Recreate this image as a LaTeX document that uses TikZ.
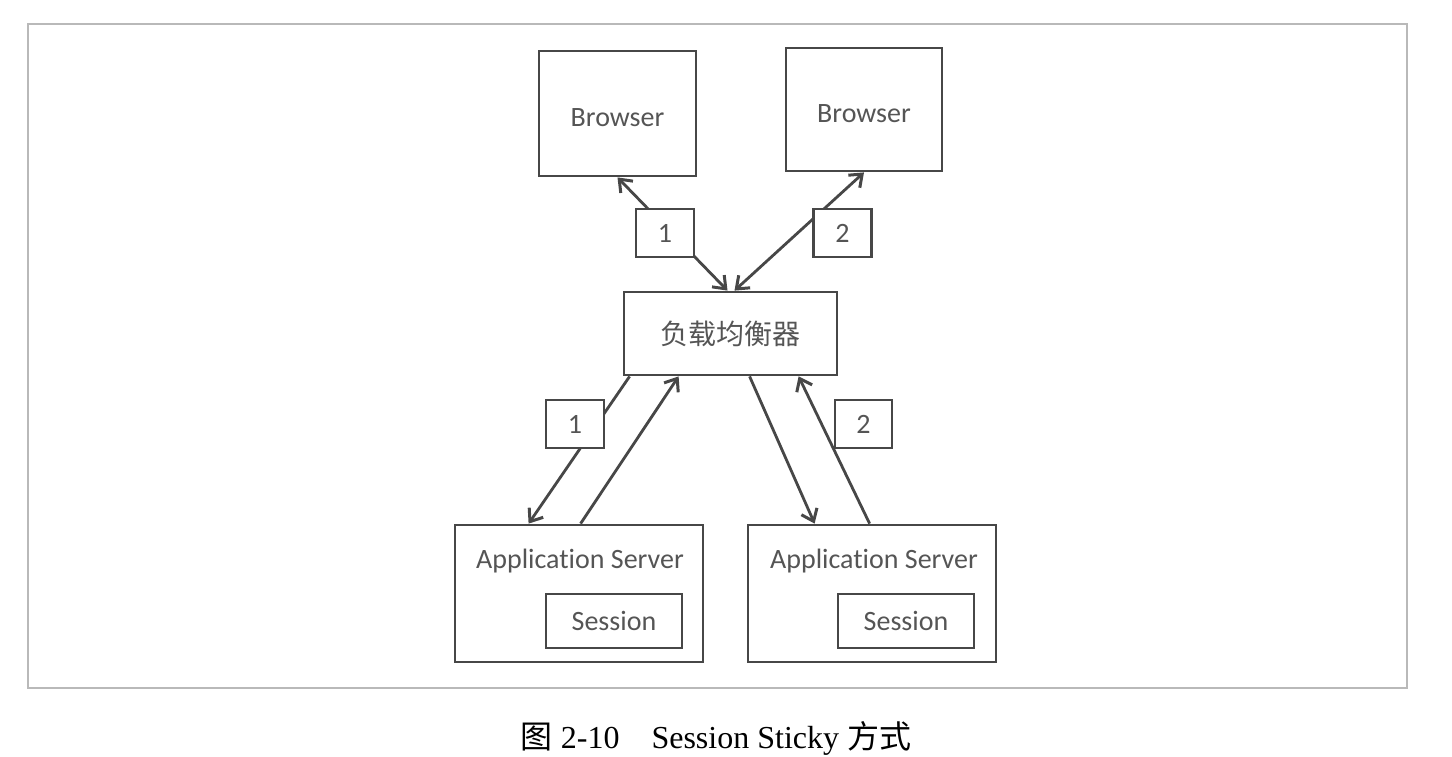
\documentclass[tikz,border=0pt]{standalone}
\usepackage{fontspec}
\setmainfont{Carlito}[RawFeature={-liga;-clig;-calt;-dlig}]
\newfontfamily\cjk{Noto Sans CJK SC}
\newfontfamily\capfont{Liberation Serif}
\usepackage{tikz}
\usetikzlibrary{arrows.meta,calc}
\definecolor{linegray}{HTML}{474747}
\definecolor{textgray}{HTML}{555555}
\newcommand{\appname}{Applicat\kern0pt ion Server}
\tikzset{
  box/.style={draw=linegray,line width=1.4pt,inner sep=0pt,text=textgray,font=\fontsize{14}{16}\selectfont},
  numbox/.style={box,fill=white,minimum width=29pt,minimum height=24pt},
  link/.style={draw=linegray,line width=1.4pt,-{Straight Barb[length=5.5pt,width=8.5pt,line width=1.5pt]}},
  twolink/.style={link,{Straight Barb[length=5.5pt,width=8.5pt,line width=1.5pt]}-{Straight Barb[length=5.5pt,width=8.5pt,line width=1.5pt]}}
}

\begin{document}
\begin{tikzpicture}[x=0.5pt,y=-0.5pt]
                \useasboundingbox (0,0) rectangle (1452,756);
                \draw[gray!55,line width=0.6pt] (28,24) rectangle (1407,688);
                \node[box,minimum width=78.5pt,minimum height=62.5pt] (brwa) at (617.5,113.5) {\raisebox{-2pt}[\height][\depth]{Browser}};
                \node[box,minimum width=78pt,minimum height=61.5pt] (brwb) at (864,109.5) {\raisebox{-2pt}[\height][\depth]{Browser}};
                \node[box,minimum width=106.5pt,minimum height=41.5pt] (lb) at (730.5,333.5) {\cjk 负载均衡器};
                \node[box,minimum width=124pt,minimum height=68.5pt] (appa) at (579,593.5) {};
                \node[box,minimum width=124pt,minimum height=68.5pt] (appb) at (872,593.5) {};
                \node[text=textgray,font=\fontsize{14}{16}\selectfont] (appat) at ($(appa.north)+(1,37)$) {\appname};
                \node[text=textgray,font=\fontsize{14}{16}\selectfont] (appbt) at ($(appb.north)+(2,37)$) {\appname};
                \node[box,minimum width=68pt,minimum height=27pt] (sesa) at (614,621) {Session};
                \node[box,minimum width=68pt,minimum height=27pt] (sesb) at (906,621) {Session};
                \draw[twolink] (brwa.south) -- ($(lb.north)+(-3,0)$);
                \draw[twolink] (brwb.south) -- ($(lb.north)+(4,0)$);
                \draw[link] ($(lb.south west)+(7,0)$) -- ($(appa.north west)+(75,0)$);
                \draw[link] ($(appa.north west)+(127,0)$) -- ($(lb.south west)+(56,0)$);
                \draw[link] ($(lb.south west)+(127,0)$) -- ($(appb.north west)+(68,0)$);
                \draw[link] ($(appb.north west)+(123,0)$) -- ($(lb.south west)+(176,0)$);
                \node[numbox] (onea) at (665,233) {1};
                \node[numbox] (twoa) at (842.5,233) {2};
                \node[numbox] (oneb) at (575,424) {1};
                \node[numbox,minimum width=28.5pt] (twob) at (863.5,424) {2};
                \node[font=\fontsize{16}{18}\selectfont] (cap) at (716,738) {{\cjk 图}\capfont{} 2-10\quad Session Sticky {\cjk 方式}};
            \end{tikzpicture}
\end{document}
